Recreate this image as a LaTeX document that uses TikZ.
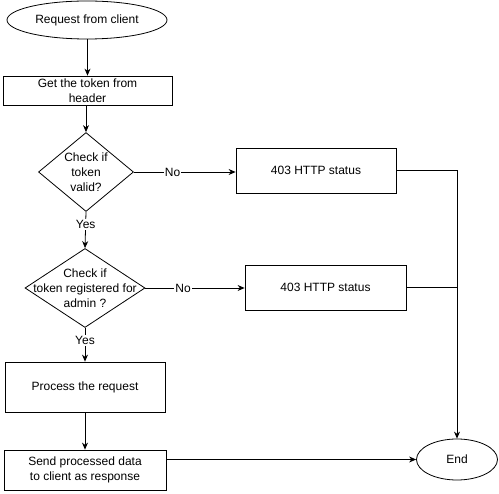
\documentclass[tikz,border=0pt]{standalone}
\usepackage{fontspec}
\setmainfont{Liberation Sans}
\usetikzlibrary{shapes.geometric,arrows.meta}
\tikzset{
  txt/.style={font=\fontsize{12}{15}\selectfont},
  base/.style={draw=black, line width=0.8pt, inner sep=0pt, align=center, txt},
  oval/.style={base, ellipse},
  box/.style={base, rectangle},
  decision/.style={base, diamond},
  flow/.style={line width=0.8pt, -{Stealth[length=7pt,width=6pt]}},
  plain/.style={line width=0.8pt},
  lbl/.style={fill=white, inner sep=1pt, txt}
}
\begin{document}
\begin{tikzpicture}[x=1pt,y=-1pt]
\useasboundingbox (0,0) rectangle (499,494);
\node[oval, minimum width=160pt, minimum height=38pt] (req) at (87,20) {Request from client};
\node[box, minimum width=169pt, minimum height=29pt] (tok) at (87.5,90.5) {Get the token from\\header};
\node[decision, minimum width=95pt, minimum height=79pt,
  label={[align=center, txt]center:Check if\\token\\valid?}] (d1) at (86,172) {};
\node[box, minimum width=160pt, minimum height=45pt] (s1) at (316,170.5) {403 HTTP status};
\node[decision, minimum width=120pt, minimum height=79pt,
  label={[align=center, txt]center:Check if\\token registered for\\admin ?}] (d2) at (85,288) {};
\node[box, minimum width=161pt, minimum height=45pt] (s2) at (325.5,287.5) {403 HTTP status};
\node[box, minimum width=160pt, minimum height=50pt] (proc) at (85,387) {Process the request};
\node[box, minimum width=162pt, minimum height=40pt] (send) at (85,470) {Send processed data\\to client as response};
\node[oval, minimum width=81pt, minimum height=41pt] (end) at (457,459.5) {End};

\draw[flow] (req.south -| tok.north) -- (tok.north);
\draw[flow] (tok.south -| d1.north) -- (d1.north);
\draw[flow] (d1.east) -- node[lbl, pos=0.38] {No} (d1.east -| s1.west);
\draw[flow] (d1.south) -- node[lbl, pos=0.35] {Yes} (d2.north);
\draw[flow] (d2.east) -- node[lbl, pos=0.38] {No} (d2.east -| s2.west);
\draw[flow] (d2.south) -- node[lbl, pos=0.37] {Yes} (proc.north);
\draw[flow] (proc.south) -- (send.north);
\draw[flow] (send.east |- end.west) -- (end.west);
\draw[flow] (s1.east) -| (end.north);
\draw[plain] (s2.east) -- (s2.east -| end.north);
\end{tikzpicture}
\end{document}
